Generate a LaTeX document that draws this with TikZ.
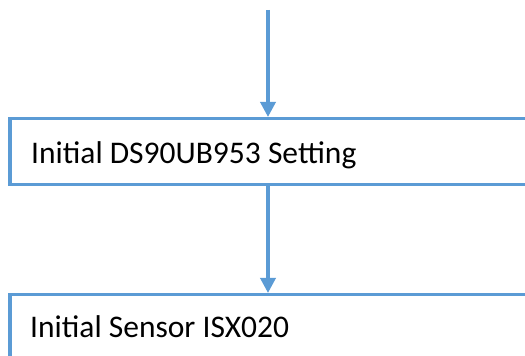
\documentclass[tikz,border=0pt]{standalone}
\usepackage{fontspec}
\setmainfont{Carlito}
\usetikzlibrary{arrows.meta}
\definecolor{flowblue}{HTML}{5B9BD5}

\begin{document}
\begin{tikzpicture}[x=1pt,y=1pt,
	stepbox/.style={draw=flowblue,line width=3.5pt,minimum width=700pt,minimum height=66pt,anchor=north west,inner sep=0pt},
	steptext/.style={anchor=base west,inner sep=0pt,font=\fontsize{31.5}{38}\selectfont},
	flow/.style={draw=flowblue,line width=3.5pt,-{Triangle[width=15pt,length=15pt]}}]
	\useasboundingbox (0,0) rectangle (525,356);
	\clip (0,0) rectangle (525,356);
	\coordinate (start) at (268,346);
	\node[stepbox] (ds953) at (8,239) {};
	\node[steptext] (ds953text) at (31,192) {Initial DS90UB953 Setting};
	\node[stepbox] (isx020) at (8,63) {};
	\node[steptext] (isx020text) at (30,18) {Initial Sensor ISX020};
	\draw[flow] (start) -- (start |- ds953.north);
	\draw[flow] (start |- ds953.south) -- (start |- isx020.north);
\end{tikzpicture}
\end{document}
